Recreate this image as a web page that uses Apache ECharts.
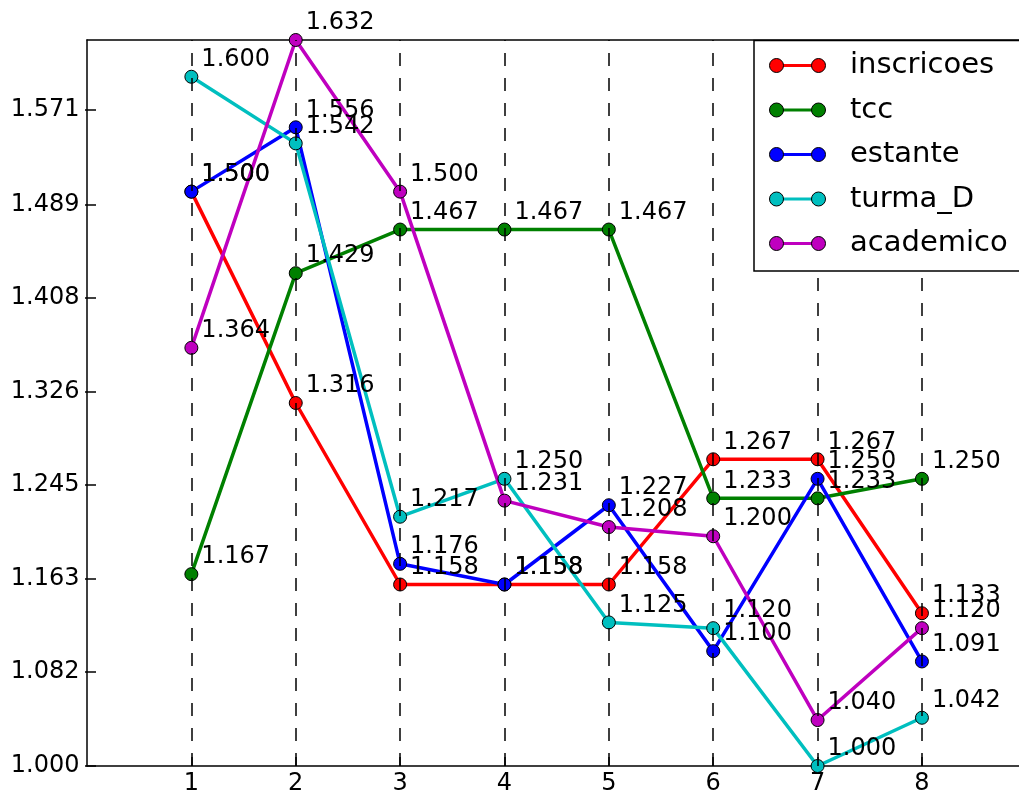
<!DOCTYPE html>
<html>
<head>
<meta charset="utf-8">
<script src="https://cdn.jsdelivr.net/npm/echarts@6/dist/echarts.min.js"></script>
<style>
  html, body { margin: 0; padding: 0; background: #fff; }
  #chart { width: 1019px; height: 796px; }
</style>
</head>
<body>
<div id="chart"></div>
<script>
// x positions (rodadas) and y tick marks
const X_VALUES = [1, 2, 3, 4, 5, 6, 7, 8];
const Y_TICKS = [1.000, 1.082, 1.163, 1.245, 1.326, 1.408, 1.489, 1.571];

// one array per series
const SERIES_NAMES = ['inscricoes', 'tcc', 'estante', 'turma_D', 'academico'];
const inscricoes = [1.500, 1.316, 1.158, 1.158, 1.158, 1.267, 1.267, 1.133];
const tcc        = [1.167, 1.429, 1.467, 1.467, 1.467, 1.233, 1.233, 1.250];
const estante    = [1.500, 1.556, 1.176, 1.158, 1.227, 1.100, 1.250, 1.091];
const turma_D    = [1.600, 1.542, 1.217, 1.250, 1.125, 1.120, 1.000, 1.042];
const academico  = [1.364, 1.632, 1.500, 1.231, 1.208, 1.200, 1.040, 1.120];

const COLORS = ['#ff0000', '#008000', '#0000ff', '#00bfbf', '#bf00bf'];
const FONT = 'DejaVu Sans';

// visible x window (the frame runs off the right edge of the canvas)
const X_MIN = 0;
const X_MAX = 8.93;

const seriesValues = [inscricoes, tcc, estante, turma_D, academico];
const allValues = [].concat(...seriesValues);
const Y_MIN = Math.min(...allValues);
const Y_MAX = Math.max(...allValues);

const chart = echarts.init(document.getElementById('chart'), null, { renderer: 'canvas' });

const series = SERIES_NAMES.map((name, k) => ({
  name: name,
  type: 'line',
  data: X_VALUES.map((x, i) => [x, seriesValues[k][i]]),
  symbol: 'circle',
  symbolSize: 13,
  clip: false,
  z: 2,
  lineStyle: { color: COLORS[k], width: 3.5 },
  itemStyle: { color: COLORS[k], borderColor: '#000', borderWidth: 1 },
  label: {
    show: true,
    position: 'right',
    distance: 0,
    align: 'left',
    verticalAlign: 'bottom',
    offset: [3, -5],
    formatter: p => p.value[1].toFixed(3),
    fontFamily: FONT,
    fontSize: 24,
    lineHeight: 24,
    color: '#000',
    textBorderWidth: 0
  },
  emphasis: { disabled: true },
  animation: false
}));

// dashed vertical guides at every x position, drawn above the lines but under the legend
series.push({
  name: 'guias',
  type: 'line',
  data: [],
  z: 3,
  silent: true,
  animation: false,
  markLine: {
    z: 3,
    silent: true,
    animation: false,
    symbol: 'none',
    label: { show: false },
    emphasis: { disabled: true },
    lineStyle: { color: '#000', width: 1.5, type: [13, 12] },
    data: X_VALUES.map(x => ({ xAxis: x }))
  }
});

const legendText = { fontFamily: FONT, fontSize: 29, lineHeight: 29 };
const spine = { show: true, onZero: false, lineStyle: { color: '#000', width: 1.5 } };

chart.setOption({
  animation: false,
  backgroundColor: '#fff',
  grid: { left: 87, right: 0, top: 40, bottom: 28, show: false },
  xAxis: [{
    type: 'value',
    position: 'bottom',
    min: X_MIN, max: X_MAX,
    axisLine: spine,
    axisTick: { show: true, inside: true, length: 9, customValues: X_VALUES, lineStyle: { color: '#000', width: 1.5 } },
    axisLabel: {
      customValues: X_VALUES,
      formatter: v => String(v),
      fontFamily: FONT, fontSize: 24, lineHeight: 24, color: '#000', margin: 6
    },
    splitLine: { show: false }
  }, {
    type: 'value',
    position: 'top',
    min: X_MIN, max: X_MAX,
    axisLine: spine,
    axisTick: { show: false },
    axisLabel: { show: false },
    splitLine: { show: false }
  }],
  yAxis: [{
    type: 'value',
    min: Y_MIN, max: Y_MAX,
    axisLine: spine,
    axisTick: { show: true, inside: true, length: 9, customValues: Y_TICKS, lineStyle: { color: '#000', width: 1.5 } },
    axisLabel: {
      customValues: Y_TICKS,
      formatter: v => v.toFixed(3),
      fontFamily: FONT, fontSize: 24, lineHeight: 24, color: '#000', margin: 7.5
    },
    splitLine: { show: false }
  }, {
    type: 'value',
    position: 'right',
    min: Y_MIN, max: Y_MAX,
    axisLine: { show: false },
    axisTick: { show: true, inside: true, length: 2, customValues: Y_TICKS, lineStyle: { color: '#000', width: 1.5 } },
    axisLabel: { show: false },
    splitLine: { show: false }
  }],
  legend: [{
    // box and connecting bars of the legend keys
    data: SERIES_NAMES,
    orient: 'vertical',
    left: 754, top: 40.5,
    padding: [10.5, 60, 13, 22.3],
    itemGap: 15.5,
    icon: 'rect',
    symbolKeepAspect: false,
    itemWidth: 42, itemHeight: 3,
    itemStyle: { borderWidth: 0 },
    backgroundColor: '#fff',
    borderColor: '#000', borderWidth: 1.5, borderRadius: 0,
    textStyle: Object.assign({ color: 'transparent', padding: [0, 0, 0, 26.5] }, legendText),
    selectedMode: false,
    z: 4
  }, {
    // end markers and names of the legend keys
    data: SERIES_NAMES,
    orient: 'vertical',
    left: 754, top: 40.5,
    padding: [10.5, 60, 13, 15],
    itemGap: 15.5,
    icon: 'path://M0,7A7,7,0,1,0,14,7A7,7,0,1,0,0,7ZM42,7A7,7,0,1,0,56,7A7,7,0,1,0,42,7Z',
    itemWidth: 56, itemHeight: 14,
    itemStyle: { borderColor: '#000', borderWidth: 1 },
    backgroundColor: 'transparent',
    borderWidth: 0,
    textStyle: Object.assign({ color: '#000', padding: [0, 0, 0, 19.5] }, legendText),
    selectedMode: false,
    z: 5
  }],
  series: series
});
</script>
</body>
</html>
